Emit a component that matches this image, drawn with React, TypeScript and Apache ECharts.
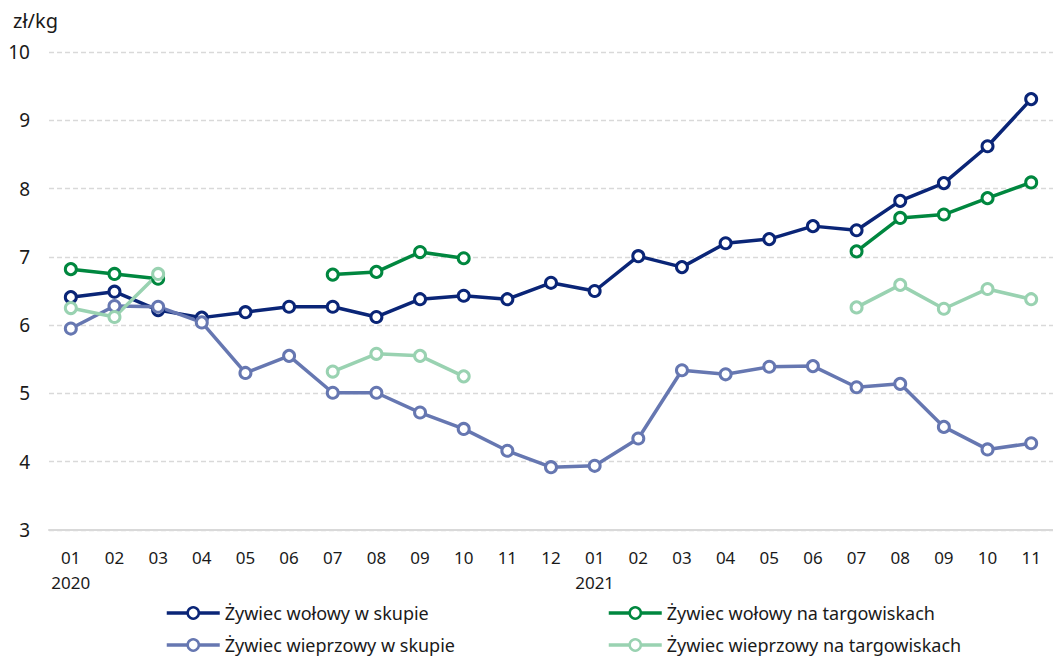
import React, { useEffect, useRef } from "react";
import * as echarts from "echarts";

const months = ["01","02","03","04","05","06","07","08","09","10","11","12","01","02","03","04","05","06","07","08","09","10","11"];
const years = ["2020","","","","","","","","","","","","2021","","","","","","","","","",""];

const seriesNames = [
  "Żywiec wołowy w skupie",
  "Żywiec wołowy na targowiskach",
  "Żywiec wieprzowy w skupie",
  "Żywiec wieprzowy na targowiskach",
];

const wolowySkup = [6.41,6.49,6.22,6.11,6.19,6.27,6.27,6.12,6.38,6.43,6.38,6.62,6.50,7.01,6.85,7.20,7.26,7.45,7.39,7.82,8.08,8.62,9.31];
const wolowyTarg = [6.82,6.75,6.68,null,null,null,6.74,6.78,7.07,6.98,null,null,null,null,null,null,null,null,7.08,7.57,7.62,7.86,8.09];
const wieprzowySkup = [5.95,6.28,6.27,6.04,5.30,5.55,5.01,5.01,4.72,4.48,4.16,3.92,3.94,4.34,5.34,5.28,5.39,5.40,5.09,5.14,4.51,4.18,4.27];
const wieprzowyTarg = [6.25,6.12,6.75,null,null,null,5.32,5.58,5.55,5.25,null,null,null,null,null,null,null,null,6.26,6.59,6.24,6.53,6.38];

const colors = ["#0a2577", "#00873f", "#6677b1", "#99d2b1"];
const FONT = "Noto Sans";

function makeLegend(names: string[], left: number) {
  return {
    data: names,
    orient: "vertical",
    left: left,
    top: 604,
    width: 400,
    height: 80,
    padding: 0,
    itemWidth: 53,
    itemHeight: 14,
    itemGap: 14,
    textStyle: { fontFamily: FONT, fontSize: 18, color: "#1a1a1a" },
    lineStyle: { width: 3.5 },
    itemStyle: { borderWidth: 2.5 },
  };
}

export default function App() {
  const ref = useRef<HTMLDivElement>(null);
  useEffect(() => {
    document.body.style.margin = "0";
    const chart = echarts.init(ref.current!, null, { renderer: "svg" });
    const datas = [wolowySkup, wolowyTarg, wieprzowySkup, wieprzowyTarg];
    chart.setOption({
      animation: false,
      textStyle: { fontFamily: FONT },
      grid: { left: 49, right: -10, top: 52, bottom: 128, containLabel: false },
      graphic: [
        {
          type: "text",
          left: 13,
          top: 10,
          style: { text: "zł/kg", fontFamily: FONT, fontSize: 20, fill: "#1a1a1a" },
        },
      ],
      legend: [
        makeLegend([seriesNames[0], seriesNames[2]], 165),
        makeLegend([seriesNames[1], seriesNames[3]], 607),
      ],
      xAxis: {
        type: "category",
        data: months,
        boundaryGap: true,
        axisLine: { lineStyle: { color: "#d9d9d9", width: 2 } },
        axisTick: { show: false },
        axisLabel: {
          interval: 0,
          margin: 15,
          fontFamily: FONT,
          fontSize: 17,
          color: "#1a1a1a",
          lineHeight: 25,
          formatter: (v: string, i: number) => (years[i] ? v + "\n" + years[i] : v),
        },
      },
      yAxis: {
        type: "value",
        min: 3,
        max: 10,
        interval: 1,
        axisLine: { show: false },
        axisTick: { show: false },
        axisLabel: { margin: 19, fontFamily: FONT, fontSize: 19, color: "#1a1a1a" },
        splitLine: { lineStyle: { color: "#d9d9d9", type: [5, 3], width: 1.3 } },
      },
      series: seriesNames.map((name, i) => ({
        name,
        type: "line",
        data: datas[i],
        connectNulls: false,
        symbol: "circle",
        symbolSize: 11,
        showSymbol: true,
        lineStyle: { color: colors[i], width: 3.5 },
        itemStyle: { color: "#ffffff", borderColor: colors[i], borderWidth: 3 },
        emphasis: { disabled: true },
      })),
    });
    return () => chart.dispose();
  }, []);
  return <div ref={ref} style={{ width: 1053, height: 658 }} />;
}
